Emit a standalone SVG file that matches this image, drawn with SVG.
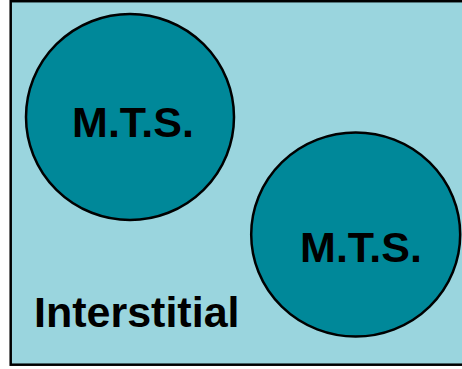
<svg xmlns="http://www.w3.org/2000/svg" width="462" height="369" viewBox="0 0 462 369">
  <style>
    .cell { fill: #008899; stroke: #000; stroke-width: 2.5; }
    .lbl { font-family: "Liberation Sans", Arial, sans-serif; font-weight: bold; font-size: 43px; fill: #000; }
  </style>
  <rect width="462" height="369" fill="#ffffff"/>
  <!-- interstitial space -->
  <g id="interstitial">
    <rect x="10.7" y="1.2" width="460" height="363.5" fill="#9AD5DE" stroke="#000" stroke-width="2.5"/>
    <text class="lbl" x="34" y="327" font-size="44.5">Interstitial</text>
  </g>
  <g id="mts-1">
    <ellipse class="cell" cx="130" cy="117" rx="104" ry="103"/>
    <text class="lbl" x="133" y="137" text-anchor="middle">M.T.S.</text>
  </g>
  <g id="mts-2">
    <ellipse class="cell" cx="355.7" cy="234.5" rx="104.5" ry="102"/>
    <text class="lbl" x="361" y="262" text-anchor="middle">M.T.S.</text>
  </g>
</svg>
